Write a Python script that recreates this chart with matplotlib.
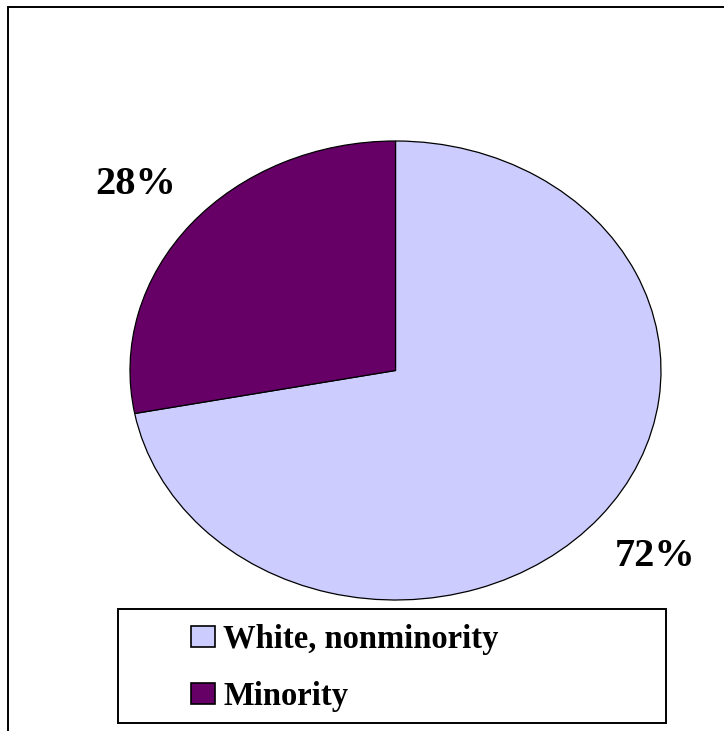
import matplotlib
matplotlib.use("Agg")
from matplotlib import pyplot as plt
from matplotlib.patches import Rectangle

labels = ["White, nonminority", "Minority"]
shares = [72, 28]
colors = ["#CCCCFF", "#660066"]

W, H = 724, 731
fig = plt.figure(figsize=(W / 100, H / 100), dpi=100)
plt.rcParams['font.family'] = ['Liberation Serif', 'DejaVu Serif']


def fx(px):
    return px / W


def fy(py):
    return 1 - py / H


# pie drawn as an ellipse: axes box = ellipse bounding box
ax = fig.add_axes([fx(130), fy(600), fx(661) - fx(130), fy(141) - fy(600)])
wedges, texts, autotexts = ax.pie(
    shares, colors=colors, startangle=90, counterclock=False,
    autopct='%d%%', pctdistance=1.27,
    wedgeprops=dict(edgecolor='black', linewidth=0.9))
for t in autotexts:
    t.set_fontsize(29)
    t.set_fontweight('bold')
    t.set_color('black')
ax.set_aspect('auto')
ax.set_xlim(-1, 1)
ax.set_ylim(-1, 1)
ax.axis('off')

# outer frame (cut off right and bottom)
fig.add_artist(Rectangle((fx(8), fy(760)), 1.2, fy(7) - fy(760),
                         transform=fig.transFigure, fill=False,
                         edgecolor='black', linewidth=1.4, clip_on=False))

# legend box
fig.add_artist(Rectangle((fx(118), fy(723)), fx(666) - fx(118), fy(609) - fy(723),
                         transform=fig.transFigure, fill=False,
                         edgecolor='black', linewidth=1.4))

leg = fig.legend(wedges, labels, loc='center left',
                 bbox_to_anchor=(fx(191), fy(668)), frameon=False,
                 borderpad=0, borderaxespad=0,
                 prop=dict(size=23.5, weight='bold'),
                 handlelength=0.74, handleheight=0.65, handletextpad=0.25,
                 labelspacing=0.8)
for h in leg.legend_handles:
    h.set_edgecolor('black')
    h.set_linewidth(1.2)

fig.savefig("out.png", dpi=100)
